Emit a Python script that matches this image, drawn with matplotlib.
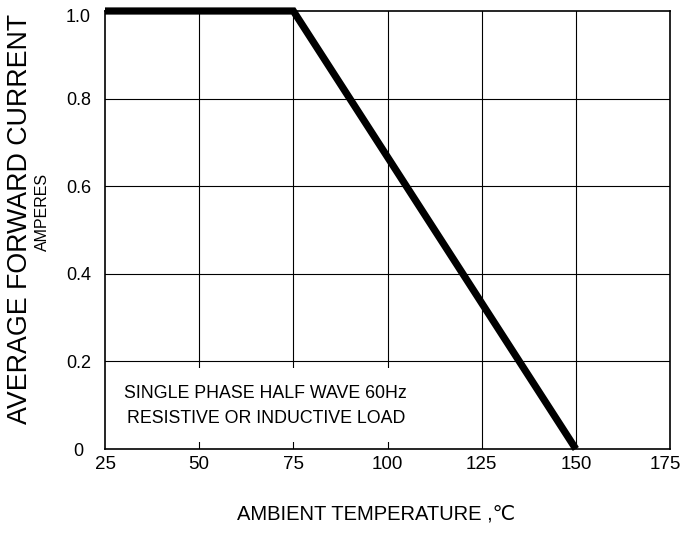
import matplotlib
matplotlib.use("Agg")
import matplotlib.pyplot as plt
import matplotlib.transforms as mtransforms
from matplotlib.patches import Rectangle

# Data
temps = [25, 75, 150]
current = [1.0, 1.0, 0.0]
x_ticks = [25, 50, 75, 100, 125, 150, 175]
x_ticklabels = ["25", "50", "75", "100", "125", "150", "175"]
y_ticks = [0, 0.2, 0.4, 0.6, 0.8, 1.0]
y_ticklabels = ["0", "0.2", "0.4", "0.6", "0.8", "1.0"]
ylabel_line1 = "AVERAGE FORWARD CURRENT"
ylabel_line2 = "AMPERES"
xlabel = "AMBIENT TEMPERATURE ,\u2103"
note_lines = ["SINGLE PHASE HALF WAVE 60Hz", "RESISTIVE OR INDUCTIVE LOAD"]

FAM = ["Liberation Sans", "DejaVu Sans"]

W, H = 682, 539
fig = plt.figure(figsize=(W / 100, H / 100), dpi=100)
ax = fig.add_axes([105 / W, (H - 449) / H, 565 / W, 438 / H])

ax.set_xlim(25, 175)
ax.set_ylim(0, 1.0)

# grid
for xv in x_ticks[1:-1]:
    ax.axvline(xv, color="black", lw=0.8, zorder=1)
for yv in y_ticks[1:-1]:
    ax.axhline(yv, color="black", lw=0.8, zorder=1)

# white box behind note text
ax.add_patch(Rectangle((25, 0.017), 90, 0.169, facecolor="white",
                       edgecolor="none", zorder=2))

ax.plot(temps, current, color="black", lw=5.2, solid_capstyle="butt",
        solid_joinstyle="miter", clip_on=False, zorder=4)

ax.text(67.7, 0.1256, note_lines[0], ha="center", va="center",
        fontsize=12.8, family=FAM, zorder=3)
ax.text(67.7, 0.0685, note_lines[1], ha="center", va="center",
        fontsize=12.8, family=FAM, zorder=3)

ax.set_xticks(x_ticks)
ax.set_xticklabels(x_ticklabels, family=FAM, fontsize=13.5)
ax.set_yticks(y_ticks)
ax.set_yticklabels(y_ticklabels, family=FAM, fontsize=13, ha="center")
ax.tick_params(axis="x", length=0, pad=5)
ax.tick_params(axis="y", length=0, pad=19)

# nudge the last x label left so it stays inside the figure
lbl = ax.get_xticklabels()[-1]
lbl.set_transform(lbl.get_transform() +
                  mtransforms.ScaledTranslation(-5 / 100, 0, fig.dpi_scale_trans))
# the 1.0 label sits slightly below its gridline in the reference
lbl1 = ax.get_yticklabels()[-1]
lbl1.set_transform(lbl1.get_transform() +
                   mtransforms.ScaledTranslation(0, -5 / 100, fig.dpi_scale_trans))

for sp in ax.spines.values():
    sp.set_linewidth(1.2)
    sp.set_color("black")

fig.text(20 / W, (H - 218.5) / H, ylabel_line1, rotation=90, ha="center",
         va="center", fontsize=19.3, family=FAM)
fig.text(42.5 / W, (H - 211.5) / H, ylabel_line2, rotation=90, ha="center",
         va="center", fontsize=11.5, family=FAM)
fig.text(376.5 / W, (H - 514) / H, xlabel, ha="center", va="center",
         fontsize=14.5, family=FAM)

fig.savefig("out.png", dpi=100, facecolor="white")
